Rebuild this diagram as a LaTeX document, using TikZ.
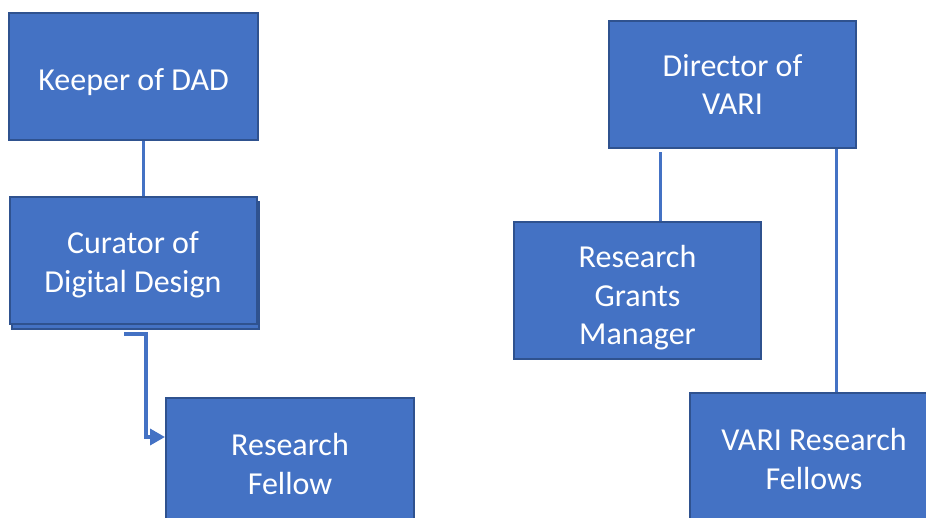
\documentclass[tikz,border=0pt]{standalone}
\usepackage{fontspec}
\setmainfont{Carlito}
\usetikzlibrary{arrows.meta,calc}
\definecolor{boxfill}{HTML}{4472C4}
\definecolor{boxedge}{HTML}{2F528F}
\begin{document}
\begin{tikzpicture}[x=1pt,y=-1pt,
  orgbox/.style={draw=boxedge,line width=2pt,fill=boxfill,text=white,align=center,
    font=\fontsize{32}{38.5}\selectfont,inner sep=0pt},
  push/.style={execute at begin node={\rule{0pt}{#1}}},
  conn/.style={draw=boxfill,line width=3pt}]
\useasboundingbox (0,0) rectangle (926,517);
\clip (0,0) rectangle (926,517);
\node[orgbox,push=34pt,minimum width=249pt,minimum height=127pt] (keeper) at (133.5,76.5) {Keeper of DAD};
\node[orgbox,minimum width=247pt,minimum height=127pt] (shadow) at (135,265) {};
\node[orgbox,push=70pt,minimum width=247pt,minimum height=127pt] (curator) at (133,260) {Curator of\\Digital Design};
\node[orgbox,push=66pt,minimum width=248pt,minimum height=127pt] (rf) at (290,461.5) {Research\\Fellow};
\node[orgbox,minimum width=247pt,minimum height=127pt] (director) at (732.5,84.5) {Director of\\VARI};
\node[orgbox,push=114pt,minimum width=247pt,minimum height=137pt] (rgm) at (637.5,290.5) {Research\\Grants\\Manager};
\node[orgbox,push=66pt,minimum width=248pt,minimum height=127pt] (vrf) at (814,456.5) {VARI Research\\Fellows};
\draw[conn] ([xshift=9.5pt]keeper.south) -- ([xshift=10pt]curator.north);
\draw[conn] ([xshift=-72.5pt,yshift=-3pt]director.south) -- ([xshift=22.5pt]rgm.north);
\draw[conn] ([xshift=103.5pt]director.south) -- ([xshift=22pt]vrf.north);
\coordinate (cstart) at ([xshift=-9pt,yshift=-9.5pt]curator.south);
\draw[conn,line width=3.5pt,-{Triangle[length=15pt,width=16pt]}] (cstart) -- ++(22,0) |- ([yshift=24.5pt]rf.west);
\end{tikzpicture}
\end{document}
